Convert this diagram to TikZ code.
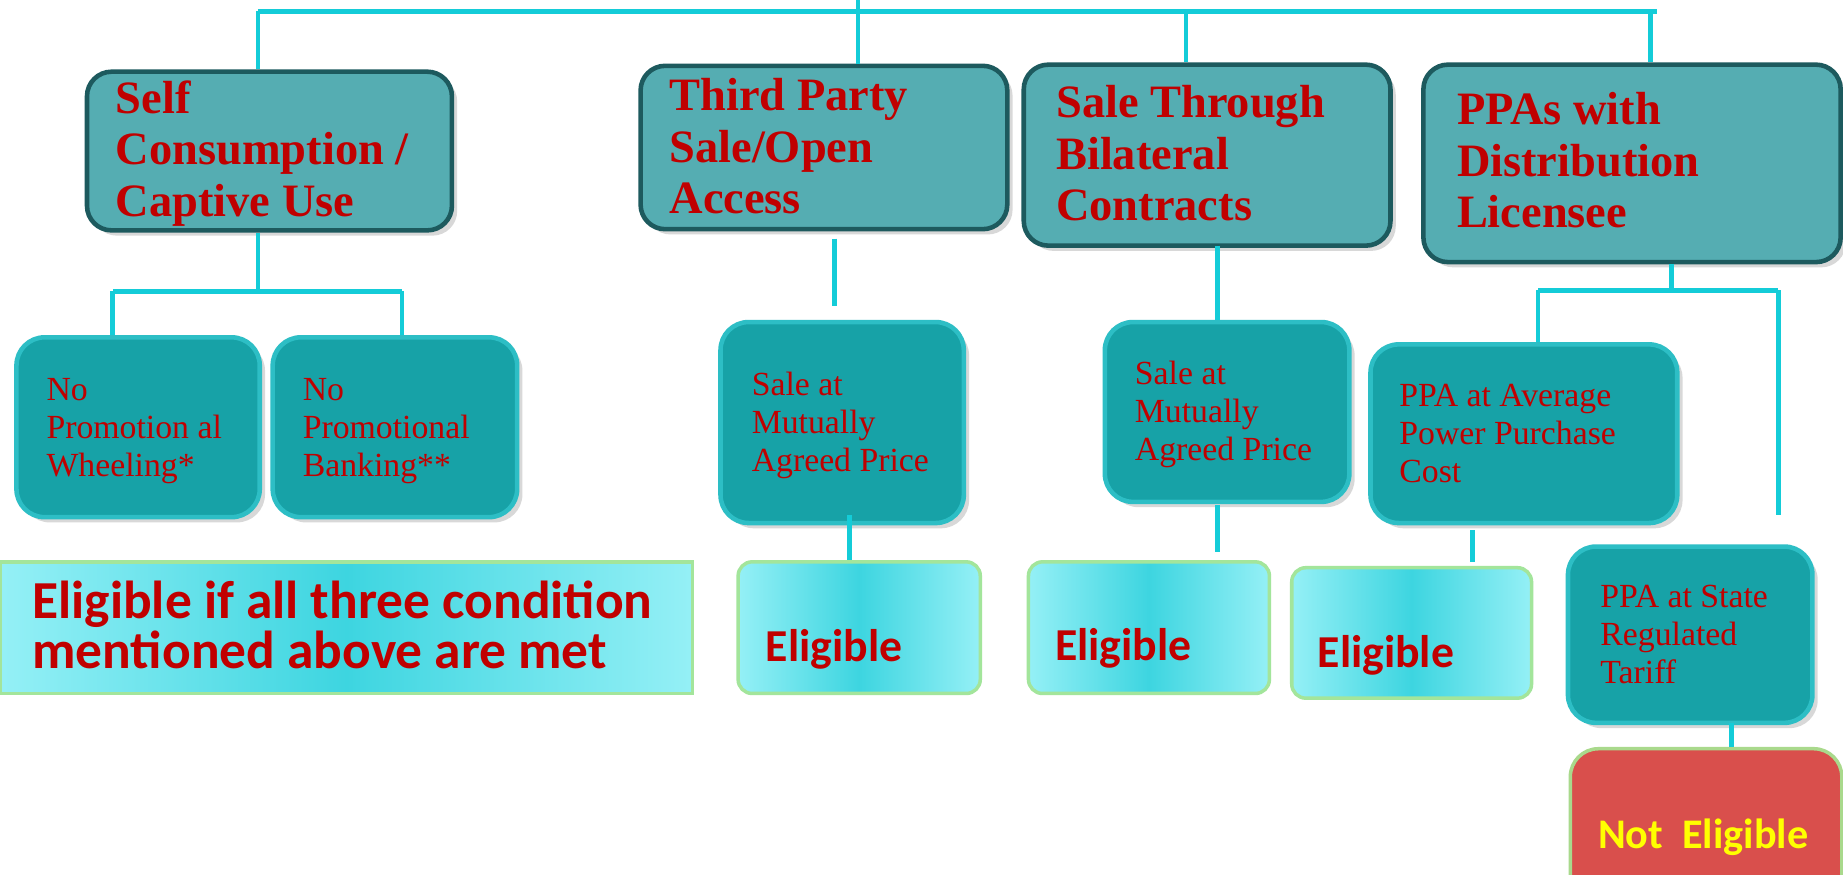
\documentclass[tikz,border=0pt]{standalone}
\usepackage{fontspec}
\setmainfont{Liberation Serif}
\newfontfamily\calfont{Carlito}
\usetikzlibrary{fit,shadows}
\definecolor{conncol}{HTML}{14CCD8}
\definecolor{topfill}{HTML}{55ADB2}
\definecolor{topedge}{HTML}{1D5A5E}
\definecolor{midfill}{HTML}{17A2A7}
\definecolor{midedge}{HTML}{2DBEC5}
\definecolor{txtred}{HTML}{C00000}
\definecolor{elgA}{HTML}{95F0F6}
\definecolor{elgB}{HTML}{3DD5E0}
\definecolor{elgedge}{HTML}{A3E59B}
\definecolor{nefill}{HTML}{D94F4C}
\definecolor{needge}{HTML}{A9D98C}
\definecolor{neyellow}{HTML}{FFFF00}
\begin{document}
\begin{tikzpicture}[x=0.011754cm,y=-0.011754cm,
  connector/.style={draw=conncol,line width=1.4pt},
  topbox/.style={inner sep=0pt,rounded corners=7pt,fill=topfill,draw=topedge,line width=1.3pt,
    drop shadow={shadow xshift=1.5pt,shadow yshift=-1.5pt,opacity=0.3}},
  midbox/.style={inner sep=0pt,rounded corners=8pt,fill=midfill,draw=midedge,line width=1.3pt,
    drop shadow={shadow xshift=1.5pt,shadow yshift=-1.5pt,opacity=0.3}},
  elbox/.style={inner sep=0pt,rounded corners=4pt,left color=elgA,right color=elgA,middle color=elgB,draw=elgedge,line width=1pt},
  bigbox/.style={inner sep=0pt,left color=elgA,right color=elgA,middle color=elgB,draw=elgedge,line width=1pt},
  nebox/.style={inner sep=0pt,rounded corners=8pt,fill=nefill,draw=needge,line width=1pt},
  toptext/.style={anchor=north west,inner sep=0pt,align=left,text=txtred,font=\fontsize{13.2}{14.7}\selectfont\bfseries},
  midtext/.style={anchor=north west,inner sep=0pt,align=left,text=txtred,font=\fontsize{9.6}{10.8}\selectfont},
  eltext/.style={anchor=base west,inner sep=0pt,text=txtred,font=\calfont\bfseries\fontsize{13}{15}\selectfont},
]
\useasboundingbox (0,0) rectangle (1568,744);
\clip (0,0) rectangle (1568,744);
\fill[white] (0,0) rectangle (1568,744);

% ---------- boxes ----------
\node[topbox,fit={(74,61)(384.5,196)}] (self) {};
\node[topbox,fit={(545,56)(857,195)}] (third) {};
\node[topbox,fit={(871,55)(1183,209)}] (bilat) {};
\node[topbox,fit={(1211,55)(1566,223)}] (ppas) {};

\node[midbox,fit={(14,287)(221,440)}] (nowheel) {};
\node[midbox,fit={(232,287)(440,440)}] (nobank) {};
\node[midbox,fit={(613,274)(820,445)}] (mutone) {};
\node[midbox,fit={(940,274)(1148,427)}] (muttwo) {};
\node[midbox,fit={(1166,293)(1427,445)}] (avg) {};
\node[midbox,fit={(1334,465)(1542,615)}] (state) {};

\node[bigbox,fit={(0,478)(589,590)}] (allthree) {};
\node[elbox,fit={(628,478)(834,590)}] (eligone) {};
\node[elbox,fit={(875,478)(1080,590)}] (eligtwo) {};
\node[elbox,fit={(1099,483)(1303,594)}] (eligthree) {};
\node[nebox,fit={(1336,637)(1567,800)}] (noteligible) {};

% ---------- connectors ----------
\coordinate (trunk) at (730,0);
\coordinate (hl) at (219.5,9.4);
\coordinate (hr) at (1410,9.4);
\coordinate (tbil) at (1009,9.4);
\coordinate (tppa) at (1404,9.4);
\draw[connector] (hl) -- (hr);
\draw[connector] (trunk) -- (trunk |- third.north);
\draw[connector] (hl) -- (hl |- self.north);
\draw[connector] (tbil) -- (tbil |- bilat.north);
\draw[connector] (tppa) -- (tppa |- ppas.north);

\coordinate (sbar) at (219.5,248);
\coordinate (sbl) at (96,248);
\coordinate (sbr) at (342,248);
\draw[connector] (sbar |- self.south) -- (sbar);
\draw[connector] (sbl) -- (sbr);
\draw[connector] (sbl) -- (sbl |- nowheel.north);
\draw[connector] (sbr) -- (sbr |- nobank.north);

\coordinate (tpa) at (709.6,203);
\coordinate (tpb) at (709.6,260);
\draw[connector] (tpa) -- (tpb);
\coordinate (ma) at (723,438);
\draw[connector] (ma) -- (ma |- eligone.north);

\coordinate (ba) at (1036,209);
\draw[connector] (ba) -- (ba |- muttwo.north);
\coordinate (bb) at (1036,430);
\coordinate (bc) at (1036,470);
\draw[connector] (bb) -- (bc);

\coordinate (pa) at (1422,247);
\coordinate (pl) at (1308.5,247);
\coordinate (pr) at (1513,247);
\coordinate (prend) at (1513,438);
\draw[connector] (pa |- ppas.south) -- (pa);
\draw[connector] (pl) -- (pr);
\draw[connector] (pl) -- (pl |- avg.north);
\draw[connector] (pr) -- (prend);

\coordinate (aa) at (1253,451);
\coordinate (ab) at (1253,478);
\draw[connector] (aa) -- (ab);
\coordinate (sa) at (1473.5,615);
\draw[connector] (sa) -- (sa |- noteligible.north);

% ---------- texts ----------
\node[toptext] (selft) at (98,68) {Self\\Consumption /\\Captive Use};
\node[toptext] (thirdt) at (569,66) {Third Party\\Sale/Open\\Access};
\node[toptext] (bilatt) at (898,72) {Sale Through\\Bilateral\\Contracts};
\node[toptext] (ppast) at (1239,78) {PPAs with\\Distribution\\Licensee};

\node[midtext] (nowheelt) at (39,321) {No\\Promotion al\\Wheeling*};
\node[midtext] (nobankt) at (257,321) {No\\Promotional\\Banking**};
\node[midtext] (mutonet) at (639,316) {Sale at\\Mutually\\Agreed Price};
\node[midtext] (mutwot) at (965,306.5) {Sale at\\Mutually\\Agreed Price};
\node[midtext] (avgt) at (1190,326) {PPA at Average\\Power Purchase\\Cost};
\node[midtext] (statet) at (1361,497.6) {PPA at State\\Regulated\\Tariff};

\node[anchor=north west,inner sep=0pt,align=left,text=txtred,font=\calfont\bfseries\fontsize{15.2}{14}\selectfont] (allthreet) at (27,494) {Eligible if all three condition\\mentioned above are met};
\node[eltext] (eligonet) at (651,563) {Eligible};
\node[eltext] (eligtwot) at (897,562) {Eligible};
\node[eltext] (eligthreet) at (1120.5,567.5) {Eligible};
\node[eltext,text=neyellow,font=\calfont\bfseries\fontsize{12}{14}\selectfont] (notelt) at (1359,721.6) {Not\ \ Eligible};
\end{tikzpicture}
\end{document}
